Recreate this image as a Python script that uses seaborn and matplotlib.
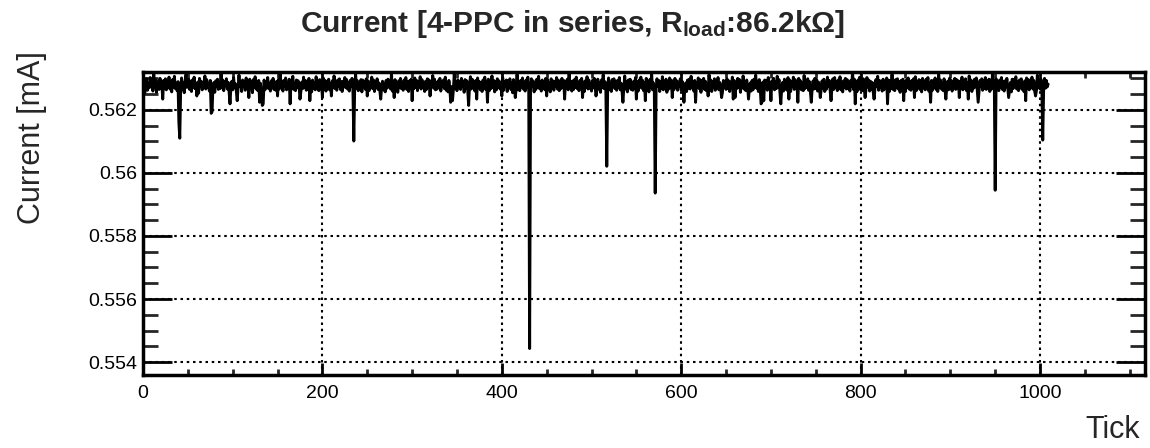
import numpy as np
import pandas as pd
import matplotlib
matplotlib.use("Agg")
import matplotlib.pyplot as plt
import seaborn as sns
from matplotlib.ticker import MultipleLocator

# ---------------- data ----------------
baseline_mA = 0.56279
# fluctuation around the baseline for every tick, in units of 1.3e-5 mA
noise_units = [
    6,-9,12,-4,15,-13,3,-7,18,-2,10,-15,27,-6,12,-18,4,9,-11,16,-8,2,-14,11,-9,15,-12,6,-3,19,-10,7,-17,13,-5,21,-9,4,-14,8,-6,10,-8,17,-12,5,-19,11,26,-6,
    -3,14,-11,8,-16,12,-5,19,-9,3,-13,7,-20,16,-4,9,-12,5,-7,22,-10,13,-6,2,-15,11,-8,17,-3,6,-18,10,-4,14,-11,4,-9,29,-7,12,-14,8,-2,15,-10,6,-17,11,-5,9,
    -12,18,-6,3,-15,10,-9,24,-4,7,-16,12,-2,9,-13,17,-7,5,-11,14,-5,8,-19,13,-3,20,-10,6,-14,11,-8,4,-17,15,-6,12,-12,7,-4,18,-9,3,-15,10,-7,16,-11,5,-13,9,
    -4,13,-10,30,-6,8,-15,11,-3,17,-12,6,-8,14,-18,9,-5,21,-11,4,-14,12,-7,10,-2,15,-16,7,-9,19,-6,11,-13,3,-10,16,-4,8,-17,12,-8,5,-12,20,-5,9,-14,13,-7,6,
    -10,17,-3,11,-15,7,-8,14,-12,4,-18,10,-5,22,-9,6,-13,12,-4,15,-11,8,-16,9,-2,18,-7,13,-10,5,-15,11,-3,16,-12,7,-6,27,-9,10,-14,4,-8,13,-17,12,-5,9,-11,15,
    -7,10,-14,6,-2,19,-9,12,-16,8,-4,15,-11,5,-13,21,-6,9,-12,3,-17,11,-8,14,-5,7,-10,28,-15,9,-3,13,-12,6,-18,10,-7,16,-9,4,-13,12,-5,18,-11,8,-16,10,-4,14,
    -12,6,-9,17,-5,11,-14,8,-3,20,-10,13,-7,4,-16,9,-11,15,-6,12,-19,7,-4,23,-8,14,-12,5,-10,10,-6,16,-15,8,-3,12,-9,19,-13,6,-17,11,-7,14,-4,9,-12,29,-8,5,
    -14,12,-6,9,-11,16,-4,7,-18,13,-8,10,-13,5,-2,20,-10,14,-7,3,-15,11,-9,17,-5,8,-12,6,-16,12,-3,19,-11,9,-7,14,-14,4,-9,22,-6,11,-17,8,-12,15,-5,10,-10,6,
    -9,18,-13,7,-4,12,-16,10,-6,15,-11,5,-19,13,-3,9,-8,26,-12,6,-14,11,-5,17,-10,4,-15,12,-7,19,-9,8,-13,15,-4,10,-17,6,-11,14,-6,21,-9,7,-15,12,-3,9,-12,16,
    -8,13,-11,5,-17,15,-6,10,-13,8,-3,18,-10,12,-14,6,-9,16,-5,11,-18,9,-7,14,-12,27,-4,8,-15,10,-11,13,-6,19,-9,5,-14,11,-3,16,-12,7,-16,10,-5,20,-10,12,-8,4,
    -15,11,-7,16,-4,9,-12,14,-10,6,-18,12,-5,25,-9,8,-14,10,-6,17,-11,5,-16,13,-3,15,-9,7,-13,11,-6,18,-12,4,-15,10,-8,22,-10,7,-17,12,-4,14,-11,6,-13,9,-7,18,
    -10,7,-15,12,-5,19,-8,11,-14,6,-4,16,-11,9,-17,13,-6,28,-12,5,-14,10,-8,15,-3,11,-16,8,-9,20,-12,6,-5,14,-18,9,-10,17,-7,12,-15,4,-11,16,-6,10,-13,7,-4,15,
    -13,9,-6,18,-11,5,-16,12,-8,14,-10,21,-5,8,-15,11,-12,6,-3,17,-9,13,-18,10,-6,16,-11,9,-14,4,-7,25,-10,12,-16,8,-5,15,-13,10,-4,18,-12,6,-9,14,-17,11,-6,9,
    -11,15,-8,10,-16,7,-4,19,-12,11,-15,6,-9,16,-5,13,-18,9,-7,22,-10,8,-14,12,-3,17,-9,5,-15,11,-12,14,-6,24,-8,9,-16,13,-4,15,-11,7,-17,12,-6,10,-13,18,-9,5,
    -14,10,-6,16,-12,8,-9,21,-5,13,-17,11,-8,6,-15,14,-10,9,-13,18,-6,12,-16,7,-4,19,-11,13,-8,5,-15,16,-7,10,-12,6,-14,23,-9,11,-5,15,-13,8,-18,12,-7,10,-10,16,
    -9,13,-15,7,-5,17,-12,10,-8,14,-16,6,-10,19,-4,11,-13,8,-7,15,-11,18,-6,9,-14,12,-9,20,-12,7,-17,10,-5,16,-10,13,-8,5,-15,11,-4,32,-11,14,-9,8,-16,12,-6,19,
    -12,8,-14,15,-7,10,-10,18,-5,12,-15,9,-11,6,-17,16,-8,13,-4,21,-13,11,-6,9,-15,14,-12,7,-9,17,-5,12,-16,10,-8,26,-11,6,-14,13,-7,15,-10,8,-18,11,-5,14,-12,9,
    -16,12,-6,17,-10,7,-13,11,-4,15,-9,20,-14,8,-5,13,-11,10,-17,16,-7,9,-12,14,-4,18,-15,6,-8,11,-13,10,-5,17,-11,8,-16,25,-7,12,-10,6,-14,15,-9,13,-6,9,-12,16,
    -8,11,-15,9,-5,16,-11,13,-7,10,-17,8,-4,19,-12,11,-9,15,-14,6,-6,22,-10,12,-16,9,-8,14,-5,17,-12,7,-15,11,-3,15,-13,10,-9,18,-11,6,-7,14,-16,12,-10,27,-6,8,
    -13,15,-9,7,-14,12,-6,18,-11,9,-15,10,-5,16,-8,11,-12,6,-17,14,-9,13,-4,20,-10,8,-14,12,-7,15,-11,5,-16,10,-6,17,-9,13,-12,8,-5,19,-10,11,-15,9,-13,24,-7,12,
    -10,14,-6,9,-12,16,-8,11,-5,2,
]
noise_unit_mA = 1.3e-5
# downward excursions (tick, offset in 1e-5 mA)
dip_ticks = [2, 22, 40, 41, 60, 76, 77, 97, 105, 118, 130, 133, 134, 150, 164, 175,
             186, 200, 210, 235, 250, 265, 280, 300, 320, 343, 345, 363, 372, 384,
             400, 415, 431, 450, 470, 490, 505, 517, 535, 550, 560, 571, 590, 603,
             616, 630, 645, 658, 660, 675, 689, 690, 692, 700, 711, 720, 730, 745,
             755, 767, 794, 805, 815, 830, 848, 860, 878, 895, 910, 920, 931, 950,
             965, 984, 995, 1003]
dip_offsets = [-25, -45, -120, -169, -35, -90, -85, -60, -50, -40, -55, -65, -60, -35, -60, -45,
               -50, -40, -35, -178, -35, -45, -40, -50, -35, -55, -50, -65, -45, -55,
               -35, -40, -836, -35, -45, -40, -35, -258, -55, -45, -50, -343, -40, -55,
               -55, -35, -40, -45, -40, -45, -60, -55, -50, -50, -60, -45, -55, -55,
               -40, -50, -60, -40, -45, -60, -50, -40, -55, -45, -40, -45, -55, -334,
               -40, -50, -35, -175]

title = "Current [4-PPC in series, R$_{\\mathbf{load}}$:86.2k\u03a9]"
x_label = "Tick"
y_label = "Current [mA]"

# ---------------- build the series ----------------
current = baseline_mA + np.array(noise_units, dtype=float) * noise_unit_mA
for t, v in zip(dip_ticks, dip_offsets):
    if t < len(current):
        current[t] = baseline_mA + v * 1e-5
df = pd.DataFrame({"tick": np.arange(len(current)), "current": current})

# ---------------- style ----------------
sns.set_theme(style="white")
plt.rcParams["font.family"] = ["Liberation Sans", "DejaVu Sans"]
plt.rcParams["mathtext.fontset"] = "custom"
plt.rcParams["mathtext.rm"] = "Liberation Sans"
plt.rcParams["mathtext.bf"] = "Liberation Sans:bold"
plt.rcParams["mathtext.it"] = "Liberation Sans:italic"

fig = plt.figure(figsize=(11.5, 4.48), dpi=100)
ax = fig.add_axes([143 / 1150, 1 - 375 / 448, (1145 - 143) / 1150, (375 - 72) / 448])

sns.lineplot(data=df, x="tick", y="current", color="black", linewidth=2.1,
             ax=ax, sort=False, estimator=None)

ax.set_xlim(0, 1117)
ax.set_ylim(0.55359, 0.56320)

ax.xaxis.set_major_locator(MultipleLocator(200))
ax.xaxis.set_minor_locator(MultipleLocator(50))
ax.yaxis.set_major_locator(MultipleLocator(0.002))
ax.yaxis.set_minor_locator(MultipleLocator(0.0005))
ax.yaxis.set_major_formatter(matplotlib.ticker.FuncFormatter(
    lambda v, p: ("%.3f" % v).rstrip("0").rstrip(".")))

ax.grid(True, which="major", color="black", linestyle=(0, (1.2, 1.8)), linewidth=1.5)

ax.tick_params(axis="y", which="major", direction="in", length=21, width=2,
               left=True, right=True, labelsize=14, pad=4, colors="black")
ax.tick_params(axis="y", which="minor", direction="in", length=10.5, width=2,
               left=True, right=True)
ax.tick_params(axis="x", which="major", direction="in", length=9, width=2,
               bottom=True, top=True, labelsize=14, pad=7, colors="black")
ax.tick_params(axis="x", which="minor", direction="in", length=4.5, width=2,
               bottom=True, top=True)

for s in ax.spines.values():
    s.set_linewidth(2.5)
    s.set_color("black")

ax.set_xlabel("")
ax.set_ylabel("")
fig.text(1140 / 1150, 1 - 430 / 448, x_label, ha="right", va="center", fontsize=22)
fig.text(32 / 1150, 1 - 138 / 448, y_label, ha="center", va="center",
         rotation=90, fontsize=22)
fig.text(572 / 1150, 1 - 24 / 448, title, ha="center", va="center",
         fontsize=21.5, fontweight="bold")

fig.savefig("out.png", dpi=100)
